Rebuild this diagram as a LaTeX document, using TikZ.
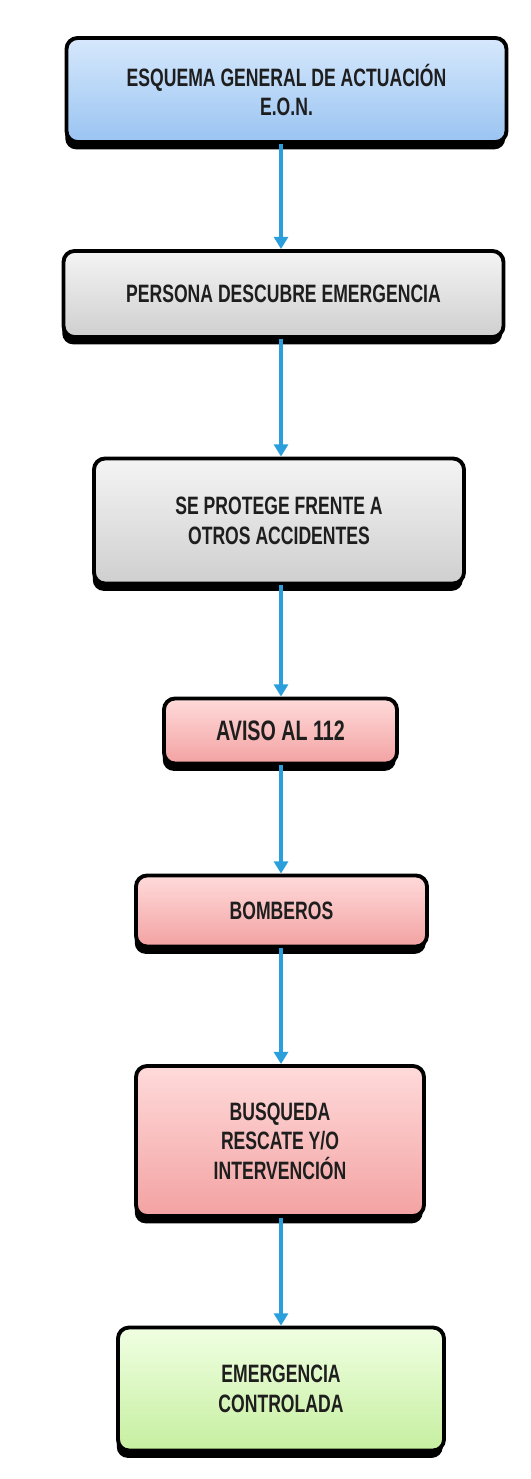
\documentclass[tikz,border=0pt]{standalone}
\usepackage{fontspec}
\setmainfont{Liberation Sans}[FakeStretch=0.70]
\usetikzlibrary{arrows.meta,shadows}
\definecolor{flecha}{HTML}{2A9FDB}
\definecolor{azularriba}{HTML}{D6E8FC}
\definecolor{azulabajo}{HTML}{9AC4F2}
\definecolor{grisarriba}{HTML}{F4F4F4}
\definecolor{grisabajo}{HTML}{CFCFCF}
\definecolor{rojoarriba}{HTML}{FFDADA}
\definecolor{rojoabajo}{HTML}{F3A2A2}
\definecolor{verdearriba}{HTML}{F0FFE2}
\definecolor{verdeabajo}{HTML}{C6EFA0}
\definecolor{texto}{HTML}{1E1E1E}
\begin{document}
\begin{tikzpicture}[
    caja/.style={draw=black, line width=2.2pt, rounded corners=0.22cm,
      align=center, text=texto, inner sep=0pt,
      font=\bfseries\fontsize{14.3}{16.8}\selectfont,
      drop shadow={shadow xshift=-0.7pt, shadow yshift=-4.2pt, fill=black, opacity=1}},
    inicio/.style={caja, top color=azularriba, bottom color=azulabajo},
    paso/.style={caja, top color=grisarriba, bottom color=grisabajo},
    aviso/.style={caja, top color=rojoarriba, bottom color=rojoabajo},
    fin/.style={caja, top color=verdearriba, bottom color=verdeabajo},
    flujo/.style={draw=flecha, line width=2pt, -{Triangle[width=8pt,length=7pt]}}
  ]
      \useasboundingbox (0,0) rectangle (10.62,-29.58);
      \coordinate (eje) at (5.62,0);
      \draw
        (5.73,-1.80) node[inicio, minimum width=8.80cm, minimum height=2.08cm] (esquema){ESQUEMA GENERAL DE ACTUACIÓN\\E.O.N.}
        (5.67,-5.88) node[paso, minimum width=8.80cm, minimum height=1.72cm] (descubre){PERSONA DESCUBRE EMERGENCIA}
        (5.58,-10.42) node[paso, minimum width=7.40cm, minimum height=2.50cm] (protege){SE PROTEGE FRENTE A\\OTROS ACCIDENTES}
        (5.61,-14.62) node[aviso, minimum width=4.66cm, minimum height=1.30cm, font=\bfseries\fontsize{16}{18}\selectfont] (aviso){AVISO AL 112}
        (5.63,-18.22) node[aviso, minimum width=5.82cm, minimum height=1.42cm] (bomberos){BOMBEROS}
        (5.60,-22.82) node[aviso, minimum width=5.76cm, minimum height=3.00cm] (busqueda){BUSQUEDA\\RESCATE Y/O\\INTERVENCIÓN}
        (5.62,-27.78) node[fin, minimum width=6.52cm, minimum height=2.46cm] (controlada){EMERGENCIA\\CONTROLADA};
      \begin{scope}[flujo]
        \draw (esquema.south -| eje) to (descubre.north -| eje);
        \draw (descubre.south -| eje) to (protege.north -| eje);
        \draw (protege.south -| eje) to (aviso.north -| eje);
        \draw (aviso.south -| eje) to (bomberos.north -| eje);
        \draw (bomberos.south -| eje) to (busqueda.north -| eje);
        \draw (busqueda.south -| eje) to (controlada.north -| eje);
      \end{scope}
    \end{tikzpicture}
\end{document}
